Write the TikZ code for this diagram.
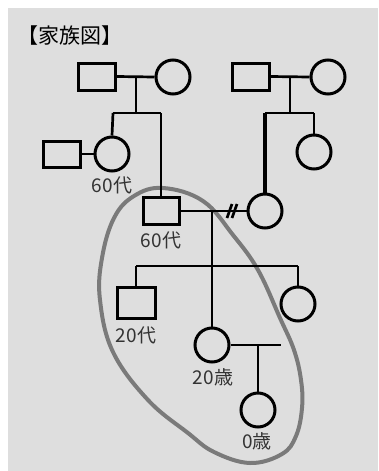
\documentclass[tikz,border=0pt]{standalone}
\usepackage{fontspec}
\setmainfont{Noto Sans CJK JP}
\begin{document}
\begin{tikzpicture}[x=1pt,y=-1pt,
  male/.style={draw=black,line width=3pt,fill=none,minimum width=37pt,minimum height=27pt,inner sep=0pt,rectangle},
  female/.style={draw=black,line width=3pt,circle,minimum size=34pt,inner sep=0pt},
  link/.style={draw=black,line width=2.7pt},
  lbl/.style={text=black!80,font=\fontsize{19}{19}\selectfont,inner sep=0pt},
  ring/.style={draw=black!52,line width=4pt}]
\definecolor{bg}{RGB}{222,222,222}
\useasboundingbox (0,0) rectangle (378,471);
\fill[white] (0,0) rectangle (378,471);
\fill[bg] (8,8) rectangle (378,471);
% encircling ring
\draw[ring] plot[smooth cycle,tension=0.65] coordinates {(163,188) (203,201) (233,235) (258,270) (280,318) (294,350) (301,380) (302,408) (296,436) (282,454) (250,463) (214,452) (188,433) (148,400) (113,352) (100,300) (102,258) (114,218) (134,196)};
% title
\node[font=\fontsize{21}{21}\selectfont,inner sep=0pt] (title) at (70,36) {【家族図】};
% people
\node[male] (gp1m) at (96.5,76.5) {};
\node[female] (gp1f) at (173,77) {};
\node[male] (gp2m) at (250.5,76.5) {};
\node[female] (gp2f) at (328,77) {};
\node[female] (aunt) at (112,154) {};
\node[male,minimum height=26pt] (aunth) at (61.5,154) {};
\node[male,minimum width=36pt] (fa) at (161,211) {};
\node[female] (mo) at (265,211) {};
\node[female] (mosis) at (314,152) {};
\node[male,minimum width=38pt,minimum height=31pt] (son) at (136,302.5) {};
\node[female] (dau) at (298,304) {};
\node[female] (me) at (212,345) {};
\node[female] (baby) at (258,410) {};
% labels
\node[lbl] (l1) at (112,185) {60代};
\node[lbl] (l2) at (161,240) {60代};
\node[lbl] (l3) at (136,335) {20代};
\node[lbl] (l4) at (213,377) {20歳};
\node[lbl] (l5) at (257,441) {0歳};
% coordinates
\coordinate (m1) at (136,77);
\coordinate (s1) at (136,113);
\coordinate (s1l) at (113,113);
\coordinate (s1r) at (161,113);
\coordinate (m2) at (290,77);
\coordinate (s2) at (290,113);
\coordinate (s2l) at (265,113);
\coordinate (s2r) at (314,113);
\coordinate (m3) at (212,211);
\coordinate (s3) at (212,266);
\coordinate (s3l) at (136,266);
\coordinate (s3r) at (298,266);
\coordinate (m4end) at (281,345);
\coordinate (m4) at (258,345);
% connectors
\draw[link] (gp1m.east) -- (gp1f.west);
\draw[link] (m1) -- (s1);
\draw[link] (s1l) -- (s1r);
\draw[link] (s1l) -- (aunt.north);
\draw[link] (s1r) -- (fa.north);
\draw[link] (gp2m.east) -- (gp2f.west);
\draw[link] (m2) -- (s2);
\draw[link] (s2l) -- (s2r);
\draw[link,line width=3.2pt] (s2l) -- (mo.north);
\draw[link] (s2r) -- (mosis.north);
\draw[link] (aunth.east) -- (aunt.west);
\draw[link] (fa.east) -- (mo.west);
\draw[link] (227,218) -- (232,204);
\draw[link] (232,218) -- (237,204);
\draw[link] (m3) -- (me.north);
\draw[link] (s3l) -- (s3r);
\draw[link] (s3l) -- (son.north);
\draw[link] (s3r) -- (dau.north);
\draw[link] (me.east) -- (m4end);
\draw[link] (m4) -- (baby.north);
\end{tikzpicture}
\end{document}
